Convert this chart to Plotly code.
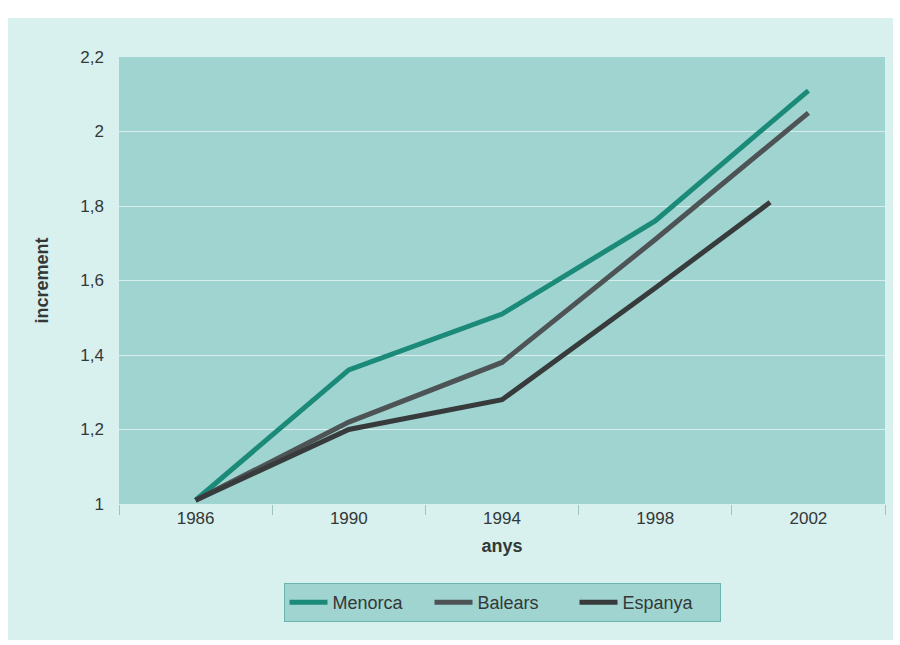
import plotly.graph_objects as go

# Data
years = [1986, 1990, 1994, 1998, 2002]
years_espanya = [1986, 1990, 1994, 1998, 2001]
menorca = [1.01, 1.36, 1.51, 1.76, 2.11]
balears = [1.01, 1.22, 1.38, 1.71, 2.05]
espanya = [1.01, 1.20, 1.28, 1.58, 1.81]

x_tick_labels = ["1986", "1990", "1994", "1998", "2002"]
y_ticks = [1, 1.2, 1.4, 1.6, 1.8, 2, 2.2]
y_grid = [1.2, 1.4, 1.6, 1.8, 2.0]
x_tick_marks = [1984, 1988, 1992, 1996, 2000, 2004]

OUTER_BG = "#d8f0ee"
PLOT_BG = "#9fd4d0"
TEXT = "#333838"
FONT = "Liberation Sans, Arial, sans-serif"

fig = go.Figure()
fig.add_trace(go.Scatter(x=years, y=menorca, name="Menorca", mode="lines",
                         line=dict(color="#1b8a79", width=5)))
fig.add_trace(go.Scatter(x=years, y=balears, name="Balears", mode="lines",
                         line=dict(color="#4e5455", width=5)))
fig.add_trace(go.Scatter(x=years_espanya, y=espanya, name="Espanya", mode="lines",
                         line=dict(color="#373b3b", width=5)))

fig.update_layout(
    width=900, height=645,
    margin=dict(l=119, r=15, t=57, b=141),
    paper_bgcolor="white",
    plot_bgcolor="rgba(0,0,0,0)",
    separators=", ",
    font=dict(family=FONT, size=17, color=TEXT),
    showlegend=True,
    legend=dict(
        orientation="h", x=0.5, xanchor="center", y=-0.177, yanchor="top",
        bgcolor=PLOT_BG, bordercolor="#6cb2ad", borderwidth=1,
        font=dict(family=FONT, size=18, color=TEXT),
        itemwidth=38, entrywidth=92, entrywidthmode="pixels",
        traceorder="normal",
    ),
    shapes=[
        dict(type="rect", xref="paper", yref="paper",
             x0=-0.145, x1=1.0104, y0=-0.304, y1=1.087,
             fillcolor=OUTER_BG, line=dict(width=0), layer="below"),
        dict(type="rect", xref="x domain", yref="y domain",
             x0=0, x1=1, y0=0, y1=1,
             fillcolor=PLOT_BG, line=dict(width=0), layer="below"),
    ],
)

fig.update_xaxes(
    range=[1984, 2004],
    tickmode="array", tickvals=years, ticktext=x_tick_labels,
    ticks="", showgrid=False, zeroline=False, showline=False,
    tickfont=dict(family=FONT, size=17, color=TEXT),
    ticklabelstandoff=2,
    minor=dict(tickmode="array", tickvals=x_tick_marks, ticks="outside",
               ticklen=10, tickwidth=1, tickcolor="#9fc4c1", showgrid=False),
    title=dict(text="<b>anys</b>", font=dict(family=FONT, size=18, color=TEXT),
               standoff=12),
)

fig.update_yaxes(
    range=[1, 2.2],
    tickmode="array", tickvals=y_ticks,
    ticks="", showgrid=False, zeroline=False, showline=False,
    tickfont=dict(family=FONT, size=17, color=TEXT),
    ticklabelstandoff=14,
    minor=dict(tickmode="array", tickvals=y_grid, ticks="", showgrid=True,
               gridcolor="rgba(255,255,255,0.6)", gridwidth=1),
    title=dict(text="<b>increment</b>", font=dict(family=FONT, size=18, color=TEXT),
               standoff=27),
)

fig.write_html("out.html")
